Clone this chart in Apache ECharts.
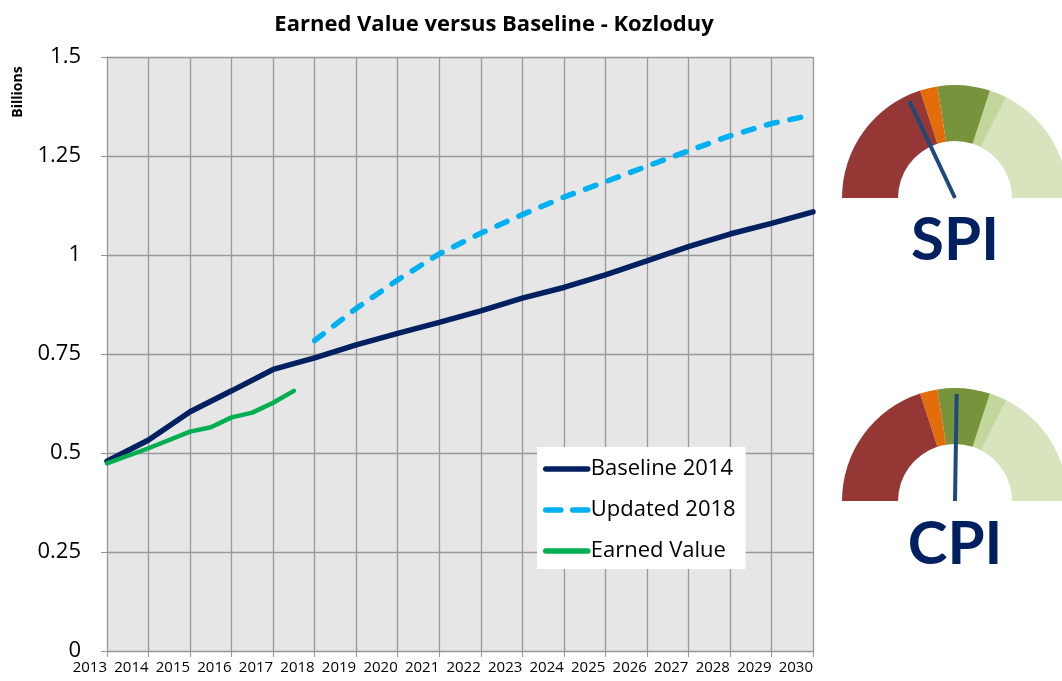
<!DOCTYPE html>
<html>
<head>
<meta charset="utf-8">
<script src="https://cdn.jsdelivr.net/npm/echarts@6/dist/echarts.min.js"></script>
<style>
html,body{margin:0;padding:0;background:#fff;}
#main{width:1062px;height:681px;}
</style>
</head>
<body>
<div id="main"></div>
<script>
// ---- data ----
const years = [2013,2014,2015,2016,2017,2018,2019,2020,2021,2022,2023,2024,2025,2026,2027,2028,2029,2030];
const baseline2014 = [0.479,0.533,0.604,0.657,0.711,0.740,0.773,0.802,0.830,0.859,0.891,0.918,0.950,0.985,1.021,1.053,1.080,1.109];
const updatedYears = [2018,2019,2020,2021,2022,2023,2024,2025,2026,2027,2028,2029,2030];
const updated2018 = [0.784,0.865,0.937,1.003,1.055,1.102,1.146,1.185,1.224,1.263,1.301,1.332,1.354];
const evYears = [2013,2014,2015,2015.5,2016,2016.5,2017,2017.5];
const earnedValue = [0.474,0.512,0.554,0.565,0.590,0.602,0.627,0.657];
const yTicks = [0,0.25,0.5,0.75,1,1.25,1.5];
const gaugeBands = [0.8,0.9,1.2,1.3,2.0];   // band upper limits on a 0-2 index scale
const gaugeNames = ['SPI','CPI'];
const gaugeValues = [0.72,1.01];

const pair = (xs, ys) => xs.map((x,i)=>[x, ys[i]]);
const bandColors = ['#953735','#E46C0A','#77933C','#C3D69B','#D7E4BD'];
const gMax = gaugeBands[gaugeBands.length-1];
const axisColor = gaugeBands.map((b,i)=>[b/gMax, bandColors[i]]);
const gaugeCenters = [[955,198],[955,501]];
const font = 'Open Sans';

const chart = echarts.init(document.getElementById('main'));
const gaugeSeries = gaugeNames.map((n,i)=>({
  type:'gauge', name:n, center:gaugeCenters[i], radius:113,
  startAngle:180, endAngle:0, min:0, max:gMax,
  axisLine:{lineStyle:{width:56, color:axisColor}},
  splitLine:{show:false}, axisTick:{show:false}, axisLabel:{show:false},
  pointer:{icon:'rect', width:4, length:107, offsetCenter:[0,0], itemStyle:{color:'#1F497D'}},
  anchor:{show:false}, title:{show:false}, detail:{show:false},
  progress:{show:false},
  data:[{value:gaugeValues[i], name:n}],
  silent:true, animation:false
}));

chart.setOption({
  animation:false,
  backgroundColor:'#fff',
  title:{text:'Earned Value versus Baseline - Kozloduy', left:489, textAlign:'center', top:9,
    textStyle:{fontFamily:font, fontWeight:'bold', fontSize:22, color:'#000'}},
  grid:{left:107, top:57, right:249, bottom:30, show:true, backgroundColor:'#E6E6E6', borderWidth:0, containLabel:false},
  legend:{
    left:537, top:447, orient:'vertical', backgroundColor:'#fff',
    padding:[11,10,7,6], itemGap:19, itemWidth:42, itemHeight:14,
    itemStyle:{opacity:0},
    lineStyle:{width:5.5, cap:'round'},
    textStyle:{fontFamily:font, fontSize:22, color:'#000', lineHeight:22, padding:[0,0,0,-2]},
    data:[
      {name:'Baseline 2014'},
      {name:'Updated 2018', lineStyle:{type:[15,12], width:5.5, cap:'round'}},
      {name:'Earned Value'}
    ]
  },
  xAxis:{type:'value', min:2013, max:2030, interval:1,
    axisLine:{show:true, lineStyle:{color:'#969696'}},
    axisTick:{show:true, length:6, lineStyle:{color:'#969696'}},
    splitLine:{show:true, lineStyle:{color:'#999999', width:1.3}},
    axisLabel:{fontFamily:font, fontSize:15, color:'#000', margin:9, align:'right', formatter:v=>String(v)}},
  yAxis:{type:'value', min:0, max:1.5, interval:0.25,
    axisLine:{show:true, lineStyle:{color:'#969696'}},
    axisTick:{show:true, length:6, lineStyle:{color:'#969696'}},
    splitLine:{show:true, lineStyle:{color:'#999999', width:1.3}},
    axisLabel:{fontFamily:font, fontSize:22, color:'#000', margin:26,
      formatter:v=>{const t=yTicks.find(k=>Math.abs(k-v)<1e-9); return t===undefined?'':String(t);}}},
  graphic:[
    {type:'text', x:18, y:92, rotation:Math.PI/2,
      style:{text:'Billions', fontFamily:font, fontWeight:'bold', fontSize:14, fill:'#000', align:'center', verticalAlign:'middle'}},
    {type:'text', x:955, y:241, z:10,
      style:{text:gaugeNames[0], fontFamily:'Lato', fontWeight:'bold', fontSize:60, fill:'#002060', align:'center', verticalAlign:'middle'}},
    {type:'text', x:955, y:545, z:10,
      style:{text:gaugeNames[1], fontFamily:'Lato', fontWeight:'bold', fontSize:60, fill:'#002060', align:'center', verticalAlign:'middle'}}
  ],
  series:[
    {name:'Baseline 2014', type:'line', data:pair(years, baseline2014), symbol:'none',
      lineStyle:{color:'#002060', width:5.5, cap:'round'}, itemStyle:{color:'#002060'}},
    {name:'Updated 2018', type:'line', data:pair(updatedYears, updated2018), symbol:'none',
      lineStyle:{color:'#00B0F0', width:5.5, type:[11,13], cap:'round'}, itemStyle:{color:'#00B0F0'}},
    {name:'Earned Value', type:'line', data:pair(evYears, earnedValue), symbol:'none',
      lineStyle:{color:'#00B050', width:4.5, cap:'round'}, itemStyle:{color:'#00B050'}}
  ].concat(gaugeSeries)
});
</script>
</body>
</html>
